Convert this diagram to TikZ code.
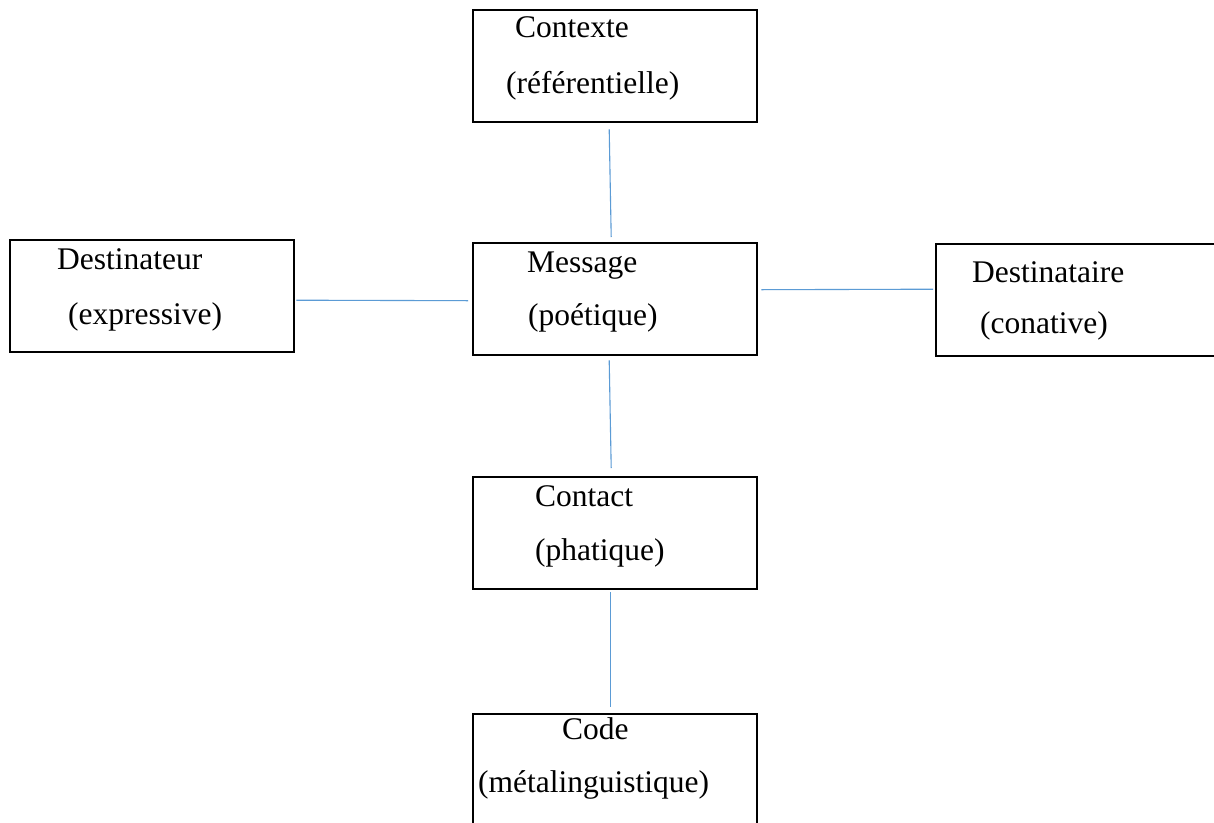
\documentclass[tikz,border=0pt]{standalone}
\usepackage{fontspec}
\setmainfont{Liberation Serif}
\definecolor{connblue}{RGB}{91,155,213}
\begin{document}
\begin{tikzpicture}[x=1pt,y=-1pt,
  box/.style={draw=black, line width=2.4pt, rectangle, minimum width=284pt, minimum height=112pt, anchor=north west, inner sep=0pt},
  txt/.style={anchor=base west, inner sep=0pt, font=\fontsize{31.5}{38}\selectfont},
  conn/.style={draw=connblue, line width=1.1pt}]
\clip (0,0) rectangle (1214,822);
\fill[white] (0,0) rectangle (1214,822);
% boxes
\node[box] (ctx) at (472,9) {};
\node[box] (dst) at (9,239) {};
\node[box] (msg) at (472,242) {};
\node[box] (dta) at (935,243) {};
\node[box] (cnt) at (472,476) {};
\node[box] (code) at (472,713) {};
% texts
\node[txt] (ctxa) at (515,37) {Contexte};
\node[txt] (ctxb) at (506,93) {(référentielle)};
\node[txt] (dsta) at (57,269) {Destinateur};
\node[txt] (dstb) at (68,324) {(expressive)};
\node[txt] (msga) at (527,272) {Message};
\node[txt] (msgb) at (528,325) {(poétique)};
\node[txt] (dtaa) at (972,282) {Destinataire};
\node[txt] (dtab) at (980,333) {(conative)};
\node[txt] (cnta) at (535,506) {Contact};
\node[txt] (cntb) at (535,560) {(phatique)};
\node[txt] (codea) at (562,739) {Code};
\node[txt] (codeb) at (478,792) {(métalinguistique)};
% connectors
\draw[conn] ([xshift=-6pt,yshift=-6pt]ctx.south) -- ([xshift=-4pt,yshift=5pt]msg.north);
\draw[conn] ([xshift=1pt,yshift=-4pt]dst.east) -- ([xshift=-4pt,yshift=-1.5pt]msg.west);
\draw[conn] ([xshift=3pt,yshift=9.5pt]msg.east) -- ([xshift=-2pt,yshift=11pt]dta.west);
\draw[conn] ([xshift=-6pt,yshift=-4pt]msg.south) -- ([xshift=-4pt,yshift=8pt]cnt.north);
\draw[conn] ([xshift=-5pt,yshift=-2pt]cnt.south) -- ([xshift=-5pt,yshift=6pt]code.north);
\end{tikzpicture}
\end{document}
